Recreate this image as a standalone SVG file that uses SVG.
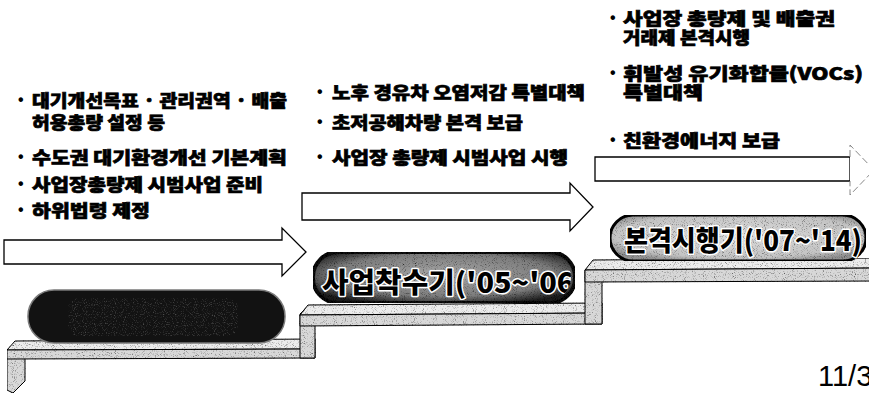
<svg xmlns="http://www.w3.org/2000/svg" width="869" height="396" viewBox="0 0 869 396">
<style>
.t{font-family:"Noto Sans CJK KR","Noto Sans",sans-serif;font-weight:900;font-size:17.5px;fill:#000;stroke:#000;stroke-width:0.7}
.b{font-family:"Liberation Sans",sans-serif;font-weight:700;font-size:16px;fill:#000}
.arrow{fill:#fff;stroke:#000;stroke-width:1.3;stroke-linejoin:miter}
.top{fill:#ececec;stroke:#000;stroke-width:1;stroke-linejoin:round}
.front{fill:#d8d8d8;stroke:#000;stroke-width:1;stroke-linejoin:round}
.ptxt{font-family:"Noto Sans CJK KR","Noto Sans",sans-serif;font-weight:900;font-size:28px;fill:#000;stroke:#fff;stroke-width:3;paint-order:stroke;stroke-linejoin:round}
</style>
<defs>
<filter id="grain" x="0" y="0" width="100%" height="100%">
<feTurbulence type="fractalNoise" baseFrequency="1.1" numOctaves="1" seed="4" result="n"/>
<feColorMatrix in="n" type="matrix" values="0 0 0 0 0  0 0 0 0 0  0 0 0 0 0  3 0 0 0 -1.6" result="d"/>
<feComposite in="d" in2="SourceAlpha" operator="in" result="d2"/>
<feMerge><feMergeNode in="SourceGraphic"/><feMergeNode in="d2"/></feMerge>
</filter>
<filter id="wgrain" x="0" y="0" width="100%" height="100%">
<feTurbulence type="fractalNoise" baseFrequency="0.9" numOctaves="1" seed="7" result="n"/>
<feColorMatrix in="n" type="matrix" values="0 0 0 0 0.5  0 0 0 0 0.5  0 0 0 0 0.5  3 0 0 0 -1.6" result="d"/>
<feComposite in="d" in2="SourceAlpha" operator="in"/>
</filter>
<radialGradient id="g2" cx="50%" cy="45%" r="60%">
<stop offset="0" stop-color="#a8a8a8"/><stop offset="0.7" stop-color="#7c7c7c"/><stop offset="1" stop-color="#1e1e1e"/>
</radialGradient>
<radialGradient id="g3" cx="50%" cy="45%" r="60%">
<stop offset="0" stop-color="#dcdcdc"/><stop offset="0.8" stop-color="#c4c4c4"/><stop offset="1" stop-color="#909090"/>
</radialGradient>
<clipPath id="c2"><rect x="316" y="255" width="255" height="45" rx="22"/></clipPath>
</defs>
<rect width="869" height="396" fill="#fff"/>

<g id="stairs" filter="url(#grain)">
<polygon class="front" points="7,352 25,352 25,381 13,393 7,390"/>
<polygon class="top" points="15,341 315,339 315,349 7,350"/>
<polygon class="front" points="7,350 315,349 315,358 7,359"/>
<polygon class="front" points="300,358 300,314 308,306 315,306 315,358"/>
<polygon class="top" points="308,305 602,303 602,313 300,315"/>
<polygon class="front" points="300,315 602,313 602,324 300,326"/>
<polygon class="front" points="585,324 585,270 593,262 602,262 602,324"/>
<polygon class="top" points="593,260 880,258 880,268 585,270"/>
<polygon class="front" points="585,270 880,268 880,281 585,282"/>
</g>

<g id="connectors">
<polygon class="arrow" points="4,240 282,240 282,228 306,252 282,276 282,264 4,264"/>
<polygon class="arrow" points="302,193 570,193 570,183 593,207 570,231 570,220 302,220"/>
<polygon class="arrow" points="595,157 850,157 850,181 595,181"/>
<polyline points="850,157 850,145 874,170 850,195 850,181" fill="#fff" stroke="#888" stroke-width="1" stroke-dasharray="7,3"/>
</g>

<g id="stage1">
<rect x="28" y="290" width="257" height="53" rx="26" fill="#121212" stroke="#7a7a7a" stroke-width="1.5"/>
<rect x="68" y="298" width="170" height="38" rx="10" fill="#000" filter="url(#wgrain)" opacity="0.4"/>
</g>

<g id="stage2">
<rect x="313" y="252" width="262" height="51" rx="25" fill="url(#g2)" stroke="#111" stroke-width="4" filter="url(#grain)"/>
<text class="ptxt" x="322" y="293" textLength="264" lengthAdjust="spacingAndGlyphs" clip-path="url(#c2)">사업착수기('05~'06)</text>
</g>

<g id="stage3">
<rect x="610" y="215" width="256" height="46" rx="23" fill="url(#g3)" stroke="#000" stroke-width="3" filter="url(#grain)"/>
<text class="ptxt" x="624" y="251" textLength="238" lengthAdjust="spacingAndGlyphs">본격시행기('07~'14)</text>
</g>

<g id="text1">
<text class="b" x="18" y="105">•</text>
<text class="t" x="32" y="107" textLength="255" lengthAdjust="spacingAndGlyphs">대기개선목표 · 관리권역 · 배출</text>
<text class="t" x="32" y="129" textLength="133" lengthAdjust="spacingAndGlyphs">허용총량 설정 등</text>
<text class="b" x="18" y="162">•</text>
<text class="t" x="32" y="164" textLength="255" lengthAdjust="spacingAndGlyphs">수도권 대기환경개선 기본계획</text>
<text class="b" x="18" y="189">•</text>
<text class="t" x="32" y="191" textLength="231" lengthAdjust="spacingAndGlyphs">사업장총량제 시범사업 준비</text>
<text class="b" x="18" y="215">•</text>
<text class="t" x="32" y="217" textLength="118" lengthAdjust="spacingAndGlyphs">하위법령 제정</text>
</g>

<g id="text2">
<text class="b" x="317" y="97">•</text>
<text class="t" x="332" y="99" textLength="253" lengthAdjust="spacingAndGlyphs">노후 경유차 오염저감 특별대책</text>
<text class="b" x="317" y="127">•</text>
<text class="t" x="332" y="129" textLength="191" lengthAdjust="spacingAndGlyphs">초저공해차량 본격 보급</text>
<text class="b" x="317" y="162">•</text>
<text class="t" x="332" y="164" textLength="236" lengthAdjust="spacingAndGlyphs">사업장 총량제 시범사업 시행</text>
</g>

<g id="text3">
<text class="b" x="610" y="23">•</text>
<text class="t" x="623" y="25" textLength="212" lengthAdjust="spacingAndGlyphs">사업장 총량제 및 배출권</text>
<text class="t" x="623" y="44" textLength="127" lengthAdjust="spacingAndGlyphs">거래제 본격시행</text>
<text class="b" x="610" y="78">•</text>
<text class="t" x="623" y="80" textLength="240" lengthAdjust="spacingAndGlyphs">휘발성 유기화합물(VOCs)</text>
<text class="t" x="623" y="99" textLength="80" lengthAdjust="spacingAndGlyphs">특별대책</text>
<text class="b" x="610" y="145">•</text>
<text class="t" x="623" y="147" textLength="157" lengthAdjust="spacingAndGlyphs">친환경에너지 보급</text>
</g>

<text id="page" x="818" y="386" font-family="Liberation Sans, sans-serif" font-size="29" fill="#000">11/3</text>
</svg>
